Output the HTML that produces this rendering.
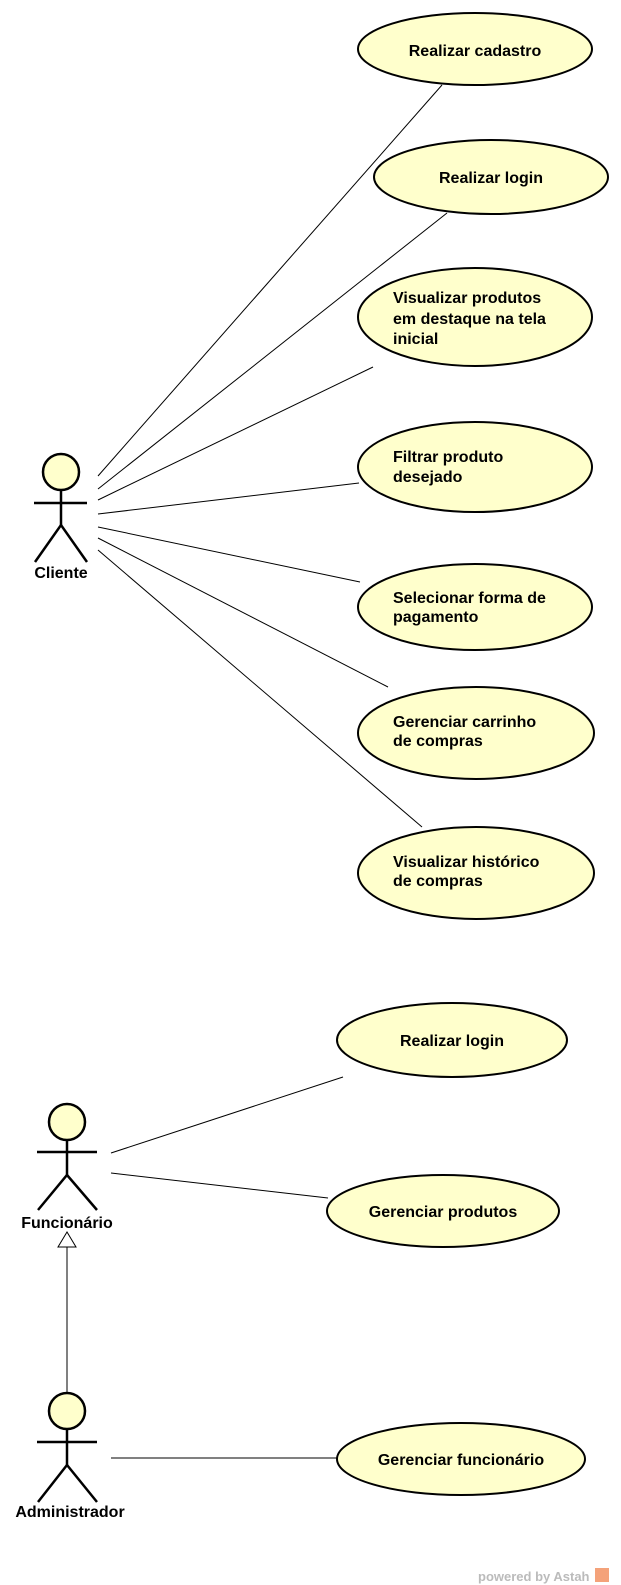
<!DOCTYPE html>
<html><head><meta charset="utf-8"><style>
html,body{margin:0;padding:0;background:#fff;}
svg{display:block;}
text{font-family:"Liberation Sans",Arial,sans-serif;font-weight:bold;font-size:16px;fill:#000;}
</style></head><body>
<svg width="621" height="1585" viewBox="0 0 621 1585" xmlns="http://www.w3.org/2000/svg">
<g stroke="#000" stroke-width="1" fill="none">
<line x1="98" y1="476" x2="442" y2="85"/>
<line x1="98" y1="489" x2="447" y2="213"/>
<line x1="98" y1="500" x2="373" y2="367"/>
<line x1="98" y1="514" x2="359" y2="483"/>
<line x1="98" y1="527" x2="360" y2="582"/>
<line x1="98" y1="538" x2="388" y2="687"/>
<line x1="98" y1="550" x2="422" y2="827"/>
<line x1="111" y1="1153" x2="343" y2="1077"/>
<line x1="111" y1="1173" x2="328" y2="1198"/>
<line x1="111" y1="1458" x2="337" y2="1458"/>
<line x1="67" y1="1247" x2="67" y2="1393"/>
<polygon points="67,1232 58,1247 76,1247" fill="#fff"/>
</g>
<g stroke="#000" stroke-width="2" fill="#ffffcc">
<ellipse cx="475" cy="49" rx="117" ry="36"/>
<ellipse cx="491" cy="177" rx="117" ry="37"/>
<ellipse cx="475" cy="317" rx="117" ry="49"/>
<ellipse cx="475" cy="467" rx="117" ry="45"/>
<ellipse cx="475" cy="607" rx="117" ry="43"/>
<ellipse cx="476" cy="733" rx="118" ry="46"/>
<ellipse cx="476" cy="873" rx="118" ry="46"/>
<ellipse cx="452" cy="1040" rx="115" ry="37"/>
<ellipse cx="443" cy="1211" rx="116" ry="36"/>
<ellipse cx="461" cy="1459" rx="124" ry="36"/>
</g>
<g stroke="#000" stroke-width="2.5" fill="none">
<circle cx="61" cy="472" r="18" fill="#ffffcc"/>
<line x1="61" y1="490" x2="61" y2="525"/>
<line x1="34" y1="503" x2="87" y2="503"/>
<polyline points="35,562 61,525 87,562"/>
<circle cx="67" cy="1122" r="18" fill="#ffffcc"/>
<line x1="67" y1="1140" x2="67" y2="1175"/>
<line x1="37" y1="1152" x2="97" y2="1152"/>
<polyline points="38,1210 67,1175 97,1210"/>
<circle cx="67" cy="1411" r="18" fill="#ffffcc"/>
<line x1="67" y1="1429" x2="67" y2="1465"/>
<line x1="37" y1="1442" x2="97" y2="1442"/>
<polyline points="38,1502 67,1465 97,1502"/>
</g>
<text x="61" y="578" text-anchor="middle">Cliente</text>
<text x="67" y="1228" text-anchor="middle">Funcionário</text>
<text x="70" y="1517" text-anchor="middle">Administrador</text>
<text x="475" y="56" text-anchor="middle">Realizar cadastro</text>
<text x="491" y="183" text-anchor="middle">Realizar login</text>
<text x="393" y="303">Visualizar produtos</text>
<text x="393" y="324">em destaque na tela</text>
<text x="393" y="344">inicial</text>
<text x="393" y="462">Filtrar produto</text>
<text x="393" y="482">desejado</text>
<text x="393" y="603">Selecionar forma de</text>
<text x="393" y="622">pagamento</text>
<text x="393" y="727">Gerenciar carrinho</text>
<text x="393" y="746">de compras</text>
<text x="393" y="867">Visualizar histórico</text>
<text x="393" y="886">de compras</text>
<text x="452" y="1046" text-anchor="middle">Realizar login</text>
<text x="443" y="1217" text-anchor="middle">Gerenciar produtos</text>
<text x="461" y="1465" text-anchor="middle">Gerenciar funcionário</text>
<text x="478" y="1581" style="font-size:13px;fill:#bbbbbb">powered by Astah</text>
<rect x="595" y="1568" width="14" height="14" fill="#f4a27a"/>
</svg>
</body></html>
